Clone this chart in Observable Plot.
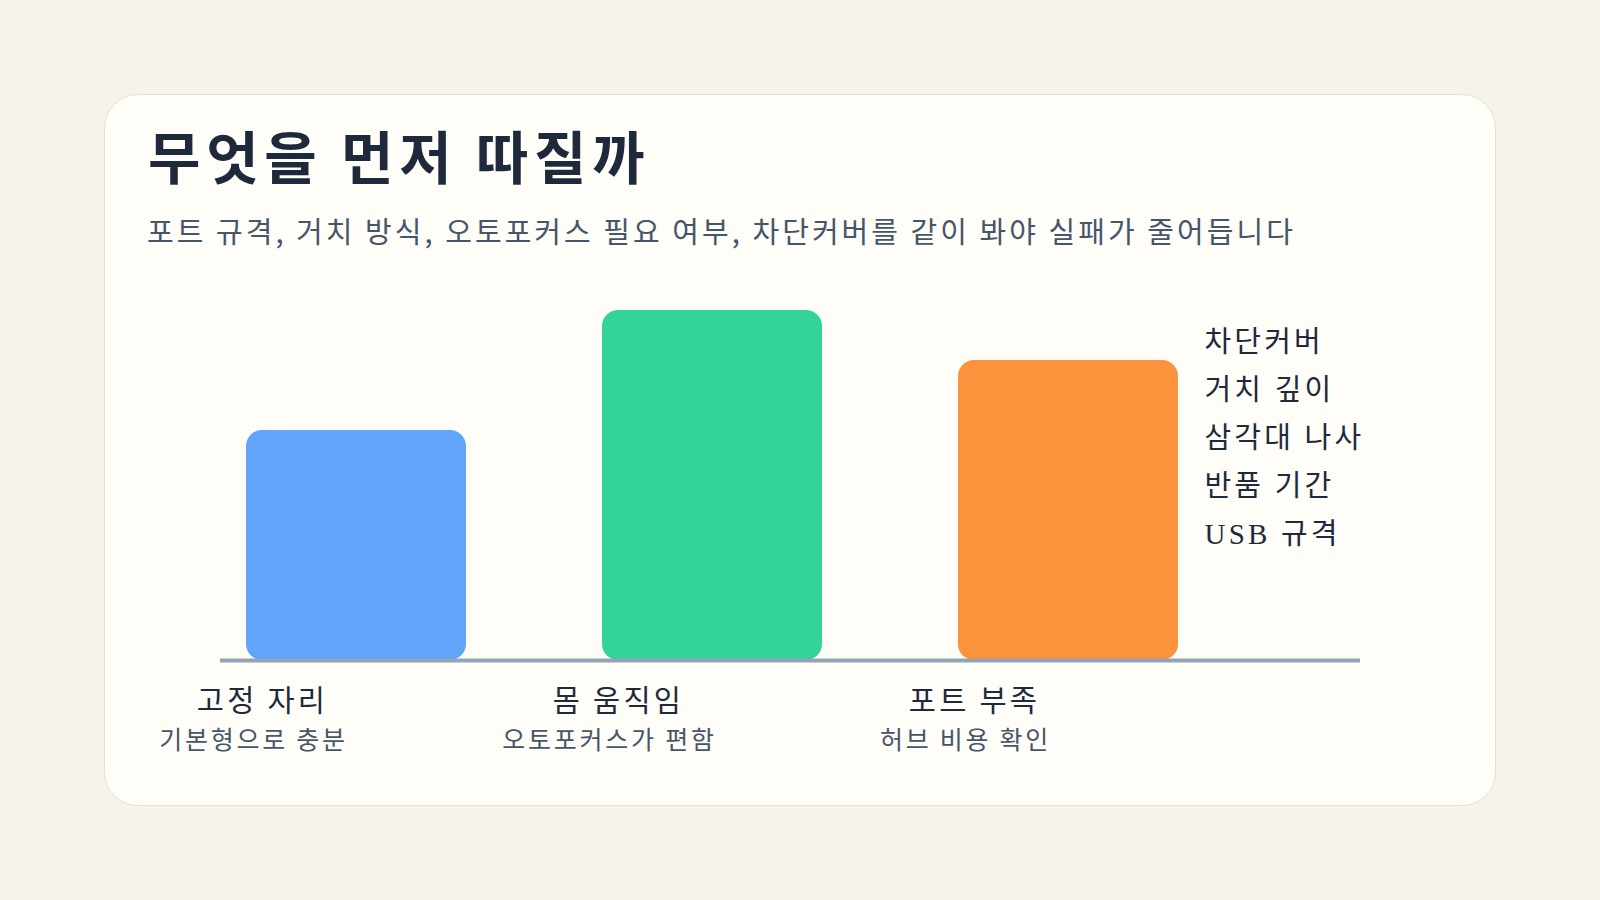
<!DOCTYPE html>
<html><head><meta charset="utf-8">
<script src="https://cdn.jsdelivr.net/npm/d3@7"></script>
<script src="https://cdn.jsdelivr.net/npm/@observablehq/plot@0.6"></script>
<style>
html,body{margin:0;padding:0;}
body{width:1600px;height:900px;background:#f6f4ea;position:relative;overflow:hidden;font-family:"Noto Sans CJK KR","Noto Sans",sans-serif;}
#card{position:absolute;left:104px;top:94px;width:1392px;height:712px;box-sizing:border-box;background:#fefdf8;border:1.5px solid #e3e0d6;border-radius:34px;}
#title{position:absolute;left:148px;top:126px;margin:0;font-size:57px;font-weight:700;color:#1e293b;line-height:1;white-space:nowrap;letter-spacing:0.1em;}
#subtitle{position:absolute;left:147px;top:216px;margin:0;font-size:29px;font-weight:400;color:#475569;line-height:1;white-space:nowrap;letter-spacing:0.105em;}
#chart{position:absolute;left:104px;top:270px;}
#chart svg text{letter-spacing:0.11em;}
</style></head>
<body>
<div id="card"></div>
<h1 id="title">무엇을 먼저 따질까</h1>
<p id="subtitle">포트 규격, 거치 방식, 오토포커스 필요 여부, 차단커버를 같이 봐야 실패가 줄어듭니다</p>
<div id="chart"></div>
<script>
const categories = ["고정 자리", "몸 움직임", "포트 부족"];
const subLabels = ["기본형으로 충분", "오토포커스가 편함", "허브 비용 확인"];
const values = [46, 70, 60];
const barColors = ["#60a5fa", "#34d399", "#fb923c"];
const checklist = ["차단커버", "거치 깊이", "삼각대 나사", "반품 기간", "USB 규격"];

const data = categories.map((c, i) => ({cat: c, sub: subLabels[i], value: values[i]}));
const noteData = [{cat: categories[categories.length - 1], text: checklist.join("\n")}];

const chart = Plot.plot({
  width: 1392,
  height: 520,
  marginTop: 40,
  marginBottom: 130,
  marginLeft: 116,
  marginRight: 136,
  style: {background: "transparent", fontFamily: "'Noto Sans CJK KR', sans-serif", overflow: "visible"},
  x: {domain: categories, paddingInner: 0.382, paddingOuter: 0.292, align: 0.125, axis: null},
  y: {domain: [0, 70], axis: null},
  color: {domain: categories, range: barColors},
  marks: [
    Plot.barY(data, {x: "cat", y: "value", fill: "cat", rx: 16, ry: 16}),
    Plot.ruleY([0], {stroke: "#94a3b8", strokeWidth: 4}),
    Plot.text(data, {x: "cat", y: 0, text: "cat", dx: -94, dy: 50, lineAnchor: "bottom", fontSize: 29.5, fill: "#1e293b"}),
    Plot.text(data, {x: "cat", y: 0, text: "sub", dx: -103, dy: 88, lineAnchor: "bottom", fontSize: 25, fill: "#475569"}),
    Plot.text(noteData, {x: "cat", frameAnchor: "top", text: "text", textAnchor: "start", lineAnchor: "top",
      dx: 136, dy: 7, lineHeight: 1.655, fontSize: 29, fill: "#1e293b",
      fontFamily: "'Liberation Serif', 'Noto Sans CJK KR', serif"})
  ]
});
document.getElementById("chart").appendChild(chart);
</script>
</body></html>
